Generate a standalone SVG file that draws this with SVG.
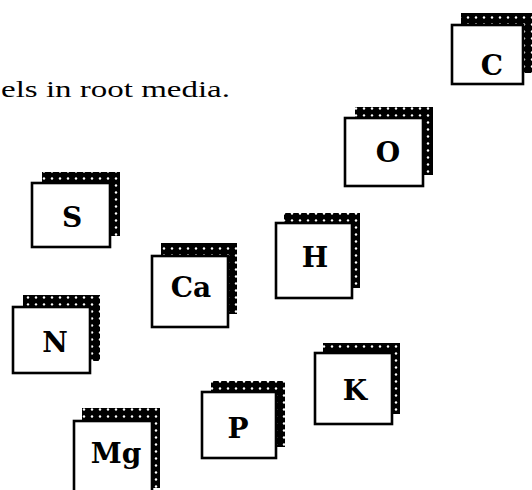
<svg xmlns="http://www.w3.org/2000/svg" width="532" height="490" viewBox="0 0 532 490">
<defs>
<pattern id="dots" width="8" height="7" patternUnits="userSpaceOnUse">
<rect width="8" height="7" fill="#000"/>
<circle cx="4" cy="3.5" r="1.2" fill="#fff"/>
</pattern>
</defs>
<style>
.sh{fill:url(#dots);}
.fr{fill:#fff;stroke:#000;stroke-width:2.6;}
.lb{font-family:"DejaVu Serif","Liberation Serif",serif;font-weight:bold;font-size:28px;text-anchor:middle;fill:#000;}
.cap{font-family:"Liberation Serif","Times New Roman",serif;font-size:24px;fill:#000;}
</style>
<rect width="532" height="490" fill="#fff"/>
<text class="cap" x="1" y="97" textLength="229" lengthAdjust="spacingAndGlyphs">els in root media.</text>
<g id="node-C">
<rect class="sh" x="461" y="13" width="74" height="60"/>
<rect class="fr" x="452" y="25" width="71" height="59"/>
<text class="lb" x="492" y="75">C</text>
</g>
<g id="node-O">
<rect class="sh" x="355" y="107" width="78" height="68"/>
<rect class="fr" x="345" y="118" width="78" height="68"/>
<text class="lb" x="388" y="162">O</text>
</g>
<g id="node-S">
<rect class="sh" x="42" y="172" width="78" height="64"/>
<rect class="fr" x="32" y="183" width="78" height="64"/>
<text class="lb" x="72" y="227">S</text>
</g>
<g id="node-H">
<rect class="sh" x="284" y="213" width="76" height="75"/>
<rect class="fr" x="276" y="223" width="76" height="75"/>
<text class="lb" x="315" y="267">H</text>
</g>
<g id="node-Ca">
<rect class="sh" x="161" y="243" width="76" height="71"/>
<rect class="fr" x="152" y="256" width="76" height="71"/>
<text class="lb" x="191" y="297">Ca</text>
</g>
<g id="node-N">
<rect class="sh" x="23" y="295" width="77" height="66"/>
<rect class="fr" x="13" y="307" width="77" height="66"/>
<text class="lb" x="55" y="352">N</text>
</g>
<g id="node-K">
<rect class="sh" x="323" y="343" width="77" height="71"/>
<rect class="fr" x="315" y="353" width="77" height="71"/>
<text class="lb" x="355" y="400">K</text>
</g>
<g id="node-P">
<rect class="sh" x="211" y="381" width="74" height="66"/>
<rect class="fr" x="202" y="392" width="74" height="66"/>
<text class="lb" x="238" y="438">P</text>
</g>
<g id="node-Mg">
<rect class="sh" x="82" y="408" width="78" height="80"/>
<rect class="fr" x="74" y="421" width="78" height="75"/>
<text class="lb" x="116" y="463">Mg</text>
</g>
<g id="connectors"></g>
</svg>
